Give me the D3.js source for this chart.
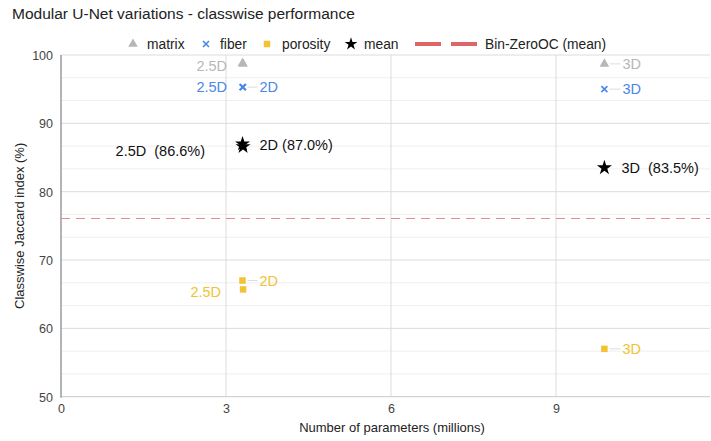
<!DOCTYPE html>
<html>
<head>
<meta charset="utf-8">
<script src="https://cdn.jsdelivr.net/npm/d3@7"></script>
<style>
  body { margin: 0; background: #fff; }
  svg { font-family: "Liberation Sans", Arial, sans-serif; }
  .tick text { fill: #444; font-size: 12.5px; }
  text { white-space: pre; }
</style>
</head>
<body>
<div id="vis"></div>
<script>
// values
const variants = ['2D', '2.5D', '3D']
const paramsM = [3.30, 3.31, 9.88]
const matrixJ = [98.8, 98.7, 98.7]
const fiberJ = [95.3, 95.3, 95.0]
const porosityJ = [67.0, 65.7, 57.0]
const meanJ = [87.0, 86.6, 83.5]
const meanLabels = ['2D (87.0%)', '2.5D  (86.6%)', '3D  (83.5%)']
const baselineJ = 76.2
const xTicks = [0, 3, 6, 9]
const yTicks = [50, 60, 70, 80, 90, 100]

const W = 711, H = 441

const svg = d3.select('#vis')
    .append('svg')
    .attr('width', W)
    .attr('height', H)

const x = d3.scaleLinear().domain([0, 11.8]).range([61, 710])
const y = d3.scaleLinear().domain([50, 100]).range([396.7, 55])

// minor grid (3 per major step)
const minor = []
for (let v = 50; v < 100; v += 10) { minor.push(v + 10 / 3, v + 20 / 3) }

svg.append('g').selectAll('line.minor')
    .data(minor)
    .join('line')
    .attr('x1', x(0)).attr('x2', x(11.8))
    .attr('y1', d => y(d)).attr('y2', d => y(d))
    .attr('stroke', '#efefef')

svg.append('g').selectAll('line.major')
    .data(yTicks.filter(d => d > 50))
    .join('line')
    .attr('x1', x(0)).attr('x2', x(11.8))
    .attr('y1', d => y(d)).attr('y2', d => y(d))
    .attr('stroke', '#dcdcdc')

svg.append('g').selectAll('line.vgrid')
    .data(xTicks.filter(d => d > 0))
    .join('line')
    .attr('x1', d => x(d)).attr('x2', d => x(d))
    .attr('y1', y(100)).attr('y2', y(50))
    .attr('stroke', '#dcdcdc')

// axes
const yAxis = svg.append('g')
    .attr('transform', `translate(${x(0) - 8},0)`)
    .call(d3.axisLeft(y).tickValues(yTicks).tickSize(0).tickPadding(0))
yAxis.select('.domain').remove()
yAxis.selectAll('.tick text').attr('dy', '0.35em')

const xAxis = svg.append('g')
    .attr('transform', `translate(0,${y(50) + 5})`)
    .call(d3.axisBottom(x).tickValues(xTicks).tickSize(0).tickPadding(0))
xAxis.select('.domain').remove()
xAxis.selectAll('.tick text').attr('dy', '0.9em')

svg.append('line')
    .attr('x1', x(0)).attr('x2', x(11.8))
    .attr('y1', y(50)).attr('y2', y(50))
    .attr('stroke', '#c8c8c8')
svg.append('line')
    .attr('x1', x(0)).attr('x2', x(0))
    .attr('y1', y(100)).attr('y2', y(50) + 1)
    .attr('stroke', '#9a9a9a')
    .attr('stroke-width', 1.5)

// baseline
svg.append('line')
    .attr('x1', x(0)).attr('x2', x(11.8))
    .attr('y1', Math.round(y(baselineJ)) + 0.5).attr('y2', Math.round(y(baselineJ)) + 0.5)
    .attr('stroke', '#e88a8a')
    .attr('stroke-width', 1.2)
    .attr('stroke-dasharray', '9,6')

// titles
svg.append('text')
    .attr('x', 12).attr('y', 19)
    .style('font-size', '15.5px')
    .attr('fill', '#222')
    .text('Modular U-Net variations - classwise performance')

svg.append('text')
    .attr('x', 392).attr('y', 432)
    .attr('text-anchor', 'middle')
    .style('font-size', '13px')
    .attr('fill', '#222')
    .text('Number of parameters (millions)')

svg.append('text')
    .attr('transform', 'rotate(-90)')
    .attr('x', -(y(50) + y(100)) / 2).attr('y', 24)
    .attr('text-anchor', 'middle')
    .style('font-size', '13px')
    .attr('fill', '#222')
    .text('Classwise Jaccard index (%)')

const colors = {matrix: '#b7b7b7', fiber: '#4a86e8', porosity: '#f1c232', mean: '#000'}
const shapes = {
    matrix: d3.symbol(d3.symbolTriangle, 40),
    porosity: d3.symbol(d3.symbolSquare, 42),
    mean: d3.symbol(d3.symbolStar, 70)
}

function marker(g, key, cx, cy, scale) {
    scale = scale || 1
    if (key === 'fiber') {
        const s = 3 * scale
        g.append('path')
            .attr('d', `M${cx - s},${cy - s}L${cx + s},${cy + s}M${cx - s},${cy + s}L${cx + s},${cy - s}`)
            .attr('stroke', colors.fiber)
            .attr('stroke-width', 1.6)
    } else {
        g.append('path')
            .attr('transform', `translate(${cx},${cy}) scale(${scale})`)
            .attr('d', shapes[key]())
            .attr('fill', colors[key])
    }
}

// label layout: side and offsets (px) per series / variant
const labelLayout = {
    matrix: [null, {side: 'left', dx: -16, dy: 2}, {side: 'right', dx: 18, dy: 0}],
    fiber: [{side: 'right', dx: 17, dy: 0}, {side: 'left', dx: -16, dy: 0}, {side: 'right', dx: 18, dy: 0}],
    porosity: [{side: 'right', dx: 17, dy: 0}, {side: 'left', dx: -22, dy: 3}, {side: 'right', dx: 18, dy: 0}],
    mean: [{side: 'right', dx: 17, dy: 1}, {side: 'left', dx: -38, dy: 4}, {side: 'right', dx: 17, dy: 0}]
}

const series = [
    {key: 'matrix', values: matrixJ, labels: variants, labelColor: '#b7b7b7'},
    {key: 'fiber', values: fiberJ, labels: variants, labelColor: '#4a86e8'},
    {key: 'porosity', values: porosityJ, labels: variants, labelColor: '#f1c232'},
    {key: 'mean', values: meanJ, labels: meanLabels, labelColor: '#111'}
]

const pts = svg.append('g')
series.forEach(s => {
    // draw 2.5D first so 2D sits on top
    [1, 0, 2].forEach(i => {
        const cx = x(paramsM[i]), cy = y(s.values[i])
        const lay = labelLayout[s.key][i]
        if (lay) {
            if (lay.side === 'right' && s.key !== 'mean') {
                pts.append('line')
                    .attr('x1', cx + 5).attr('x2', cx + lay.dx - 2)
                    .attr('y1', cy).attr('y2', cy)
                    .attr('stroke', '#ddd')
            }
            pts.append('text')
                .attr('x', cx + lay.dx).attr('y', cy + lay.dy)
                .attr('dy', '0.35em')
                .attr('text-anchor', lay.side === 'left' ? 'end' : 'start')
                .style('font-size', '14.5px')
                .attr('fill', s.labelColor)
                .text(s.labels[i])
        }
        marker(pts, s.key, cx, cy)
    })
})

// legend
const legend = svg.append('g').attr('transform', 'translate(0,44)')
const legItems = [
    {key: 'matrix', label: 'matrix', mx: 133, tx: 147},
    {key: 'fiber', label: 'fiber', mx: 206, tx: 220},
    {key: 'porosity', label: 'porosity', mx: 267, tx: 282},
    {key: 'mean', label: 'mean', mx: 351, tx: 364}
]
legItems.forEach(d => {
    marker(legend, d.key, d.mx, 0, d.key === 'mean' ? 0.85 : 1)
    legend.append('text')
        .attr('x', d.tx).attr('y', 0).attr('dy', '0.35em')
        .style('font-size', '13.8px')
        .attr('fill', '#222')
        .text(d.label)
})
legend.selectAll('rect.bl')
    .data([415, 451])
    .join('rect')
    .attr('x', d => d).attr('y', -2)
    .attr('width', 26).attr('height', 4)
    .attr('fill', '#e06666')
legend.append('text')
    .attr('x', 485).attr('y', 0).attr('dy', '0.35em')
    .style('font-size', '13.8px')
    .attr('fill', '#222')
    .text('Bin-ZeroOC (mean)')
</script>
</body>
</html>
